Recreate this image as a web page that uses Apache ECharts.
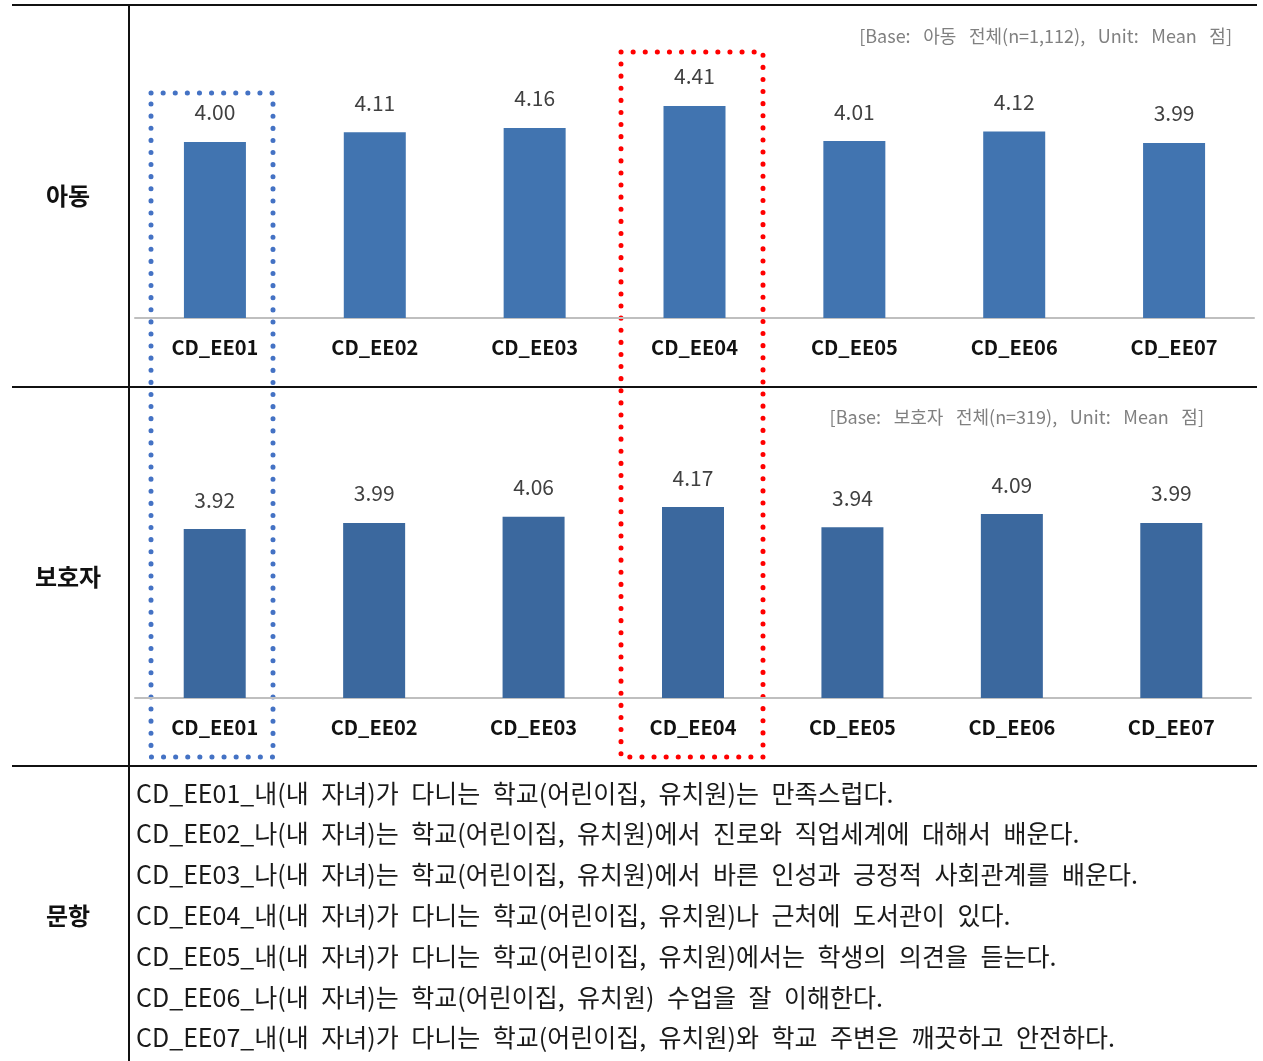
<!DOCTYPE html>
<html>
<head>
<meta charset="utf-8">
<title>학교 만족도</title>
<script src="https://cdn.jsdelivr.net/npm/echarts@6/dist/echarts.min.js"></script>
<style>
  html, body { margin: 0; padding: 0; background: #fff; }
  #main { width: 1263px; height: 1061px; }
</style>
</head>
<body>
<div id="main"></div>
<script>
var categories = ['CD_EE01', 'CD_EE02', 'CD_EE03', 'CD_EE04', 'CD_EE05', 'CD_EE06', 'CD_EE07'];
var childMeans = [4.00, 4.11, 4.16, 4.41, 4.01, 4.12, 3.99];
var parentMeans = [3.92, 3.99, 4.06, 4.17, 3.94, 4.09, 3.99];
var rowLabels = ['아동', '보호자', '문항'];
var baseNotes = ['[Base: 아동 전체(n=1,112), Unit: Mean 점]', '[Base: 보호자 전체(n=319), Unit: Mean 점]'];
var itemTexts = [
    'CD_EE01_내(내 자녀)가 다니는 학교(어린이집, 유치원)는 만족스럽다.',
    'CD_EE02_나(내 자녀)는 학교(어린이집, 유치원)에서 진로와 직업세계에 대해서 배운다.',
    'CD_EE03_나(내 자녀)는 학교(어린이집, 유치원)에서 바른 인성과 긍정적 사회관계를 배운다.',
    'CD_EE04_내(내 자녀)가 다니는 학교(어린이집, 유치원)나 근처에 도서관이 있다.',
    'CD_EE05_내(내 자녀)가 다니는 학교(어린이집, 유치원)에서는 학생의 의견을 듣는다.',
    'CD_EE06_나(내 자녀)는 학교(어린이집, 유치원) 수업을 잘 이해한다.',
    'CD_EE07_내(내 자녀)가 다니는 학교(어린이집, 유치원)와 학교 주변은 깨끗하고 안전하다.'
];

var FONT = '"Noto Sans CJK KR", "Noto Sans", sans-serif';

// 원본 문서처럼 띄어쓰기 폭을 넓게
function wide(t, sp){
    return t.replace(/ /g, sp);
}

function barSeries(data, idx, color){
    return {
        type: 'bar',
        xAxisIndex: idx,
        yAxisIndex: idx,
        barWidth: 62,
        data: data,
        itemStyle: { color: color },
        label: {
            show: true,
            position: 'top',
            distance: 19,
            color: '#404040',
            fontFamily: FONT,
            fontSize: 21,
            formatter: function(p){ return p.value.toFixed(2); }
        },
        animation: false
    };
}

function catAxis(idx){
    return {
        type: 'category',
        gridIndex: idx,
        data: categories,
        axisTick: { show: false },
        axisLine: { lineStyle: { color: '#bfbfbf', width: 2 } },
        axisLabel: {
            color: '#111',
            fontFamily: FONT,
            fontWeight: 'bold',
            fontSize: 20,
            margin: 19
        }
    };
}

function valAxis(idx){
    return {
        type: 'value',
        gridIndex: idx,
        min: 2,
        max: 5,
        show: false
    };
}

// 표 테두리, 행 제목, 문항 목록
var graphics = [];
function hline(y){
    graphics.push({ type: 'line', shape: { x1: 12, y1: y, x2: 1257, y2: y }, style: { stroke: '#111', lineWidth: 2 } });
}
hline(5); hline(387); hline(766);
graphics.push({ type: 'line', shape: { x1: 129, y1: 5, x2: 129, y2: 1061 }, style: { stroke: '#111', lineWidth: 2 } });

var rowY = [196, 577, 916];
rowLabels.forEach(function(t, i){
    graphics.push({
        type: 'text', x: 68, y: rowY[i],
        style: { text: t, font: 'bold 24px ' + FONT, fill: '#111', textAlign: 'center', textVerticalAlign: 'middle' }
    });
});

graphics.push({ type: 'text', x: 1232, y: 36,
    style: { text: wide(baseNotes[0], '\u2002\u2009'), font: '18px ' + FONT, fill: '#808080', textAlign: 'right', textVerticalAlign: 'middle' } });
graphics.push({ type: 'text', x: 1204, y: 417,
    style: { text: wide(baseNotes[1], '\u2002\u2009'), font: '18px ' + FONT, fill: '#808080', textAlign: 'right', textVerticalAlign: 'middle' } });

itemTexts.forEach(function(t, i){
    graphics.push({
        type: 'text', x: 136, y: 793 + i * 40.8,
        style: { text: wide(t, '\u2002'), font: '25px ' + FONT, fill: '#1a1a1a', textAlign: 'left', textVerticalAlign: 'middle' }
    });
});

// 강조 점선 박스
graphics.push({ type: 'rect', shape: { x: 151, y: 93, width: 122, height: 664 },
    style: { fill: 'none', stroke: '#4472c4', lineWidth: 5, lineDash: [0.1, 12], lineCap: 'round' } });
graphics.push({ type: 'rect', shape: { x: 621, y: 52, width: 142, height: 705 },
    style: { fill: 'none', stroke: '#ff0000', lineWidth: 5, lineDash: [0.1, 12], lineCap: 'round' } });

var myChart = echarts.init(document.getElementById('main'));
var option = {
    animation: false,
    grid: [
        { left: 135, right: 9, top: 54, height: 264 },
        { left: 135, right: 12, top: 434, height: 264 }
    ],
    xAxis: [catAxis(0), catAxis(1)],
    yAxis: [valAxis(0), valAxis(1)],
    series: [
        barSeries(childMeans, 0, '#4174b0'),
        barSeries(parentMeans, 1, '#3b689e')
    ],
    graphic: graphics
};
myChart.setOption(option);
</script>
</body>
</html>
